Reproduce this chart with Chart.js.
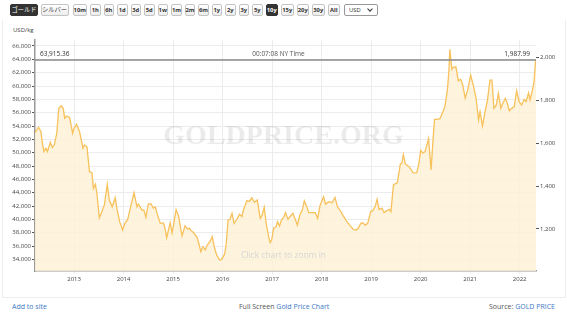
<!DOCTYPE html>
<html>
<head>
<meta charset="utf-8">
<script src="https://cdn.jsdelivr.net/npm/chart.js@4"></script>
<style>
    body { margin: 0; width: 567px; height: 313px; background: #fff; font-family: "Open Sans", sans-serif; position: relative; overflow: hidden; }
    .bar { position: absolute; left: 10px; top: 4px; display: flex; gap: 3px; height: 12px; }
    .bar span { display: inline-block; box-sizing: border-box; width: 10.5px; height: 12px; line-height: 10px; padding: 0; border: 1px solid #c4c4c4; border-radius: 2px; background: linear-gradient(#fff, #ececec); font-size: 5.8px; font-weight: bold; color: #333; text-align: center; white-space: nowrap; }
    .bar span.w3 { width: 12.5px; }
    .bar span.w4 { width: 14.5px; margin-left: 1.5px; }
    .bar span.jp { width: 28px; font-family: "Noto Sans CJK JP", sans-serif; font-weight: normal; font-size: 6.3px; margin-right: -0.5px; }
    .bar span.on { background: #333; border-color: #333; color: #fff; }
    .bar span.sel { width: 34px; margin-left: 1px; text-align: left; padding-left: 4px; font-weight: normal; position: relative; background: #fff; border-color: #999; }
    .bar span.sel::after { content: ""; position: absolute; right: 5px; top: 2px; width: 3px; height: 3px; border-right: 1px solid #333; border-bottom: 1px solid #333; transform: rotate(45deg); }
    .box { position: absolute; left: 2px; top: 20px; width: 562px; height: 277px; border: 1px solid #eee; border-top: none; }
    #wrap { position: absolute; left: 0; top: 20px; width: 567px; height: 277px; }
    .unit { position: absolute; left: 13px; top: 26px; font-size: 6px; color: #444; }
    .foot { position: absolute; top: 302px; font-size: 7px; color: #555; }
    .foot a { color: #3b78c4; text-decoration: none; }
</style>
</head>
<body>
<div class="bar" id="bar"></div>
<div class="box"></div>
<div class="unit">USD/kg</div>
<div id="wrap"><canvas id="goldChart"></canvas></div>
<div class="foot" style="left:12px"><a>Add to site</a></div>
<div class="foot" style="left:239px">Full Screen <a>Gold Price Chart</a></div>
<div class="foot" style="right:12px">Source: <a>GOLD PRICE</a></div>
<script>
// toolbar
const metals = ["ゴールド", "シルバー"];
const ranges = ["10m", "1h", "6h", "1d", "3d", "5d", "1w", "1m", "2m", "6m", "1y", "2y", "3y", "5y", "10y", "15y", "20y", "30y", "All"];
const activeRange = "10y";

const bar = document.getElementById("bar");
metals.forEach((m, i) => {
    const b = document.createElement("span");
    b.className = "jp" + (i === 0 ? " on" : "");
    b.textContent = m;
    bar.appendChild(b);
});
ranges.forEach((r, i) => {
    const b = document.createElement("span");
    const cls = [];
    if (i === 0) cls.push("w4");
    else if (r.length > 2) cls.push("w3");
    if (r === activeRange) cls.push("on");
    b.className = cls.join(" ");
    b.textContent = r;
    bar.appendChild(b);
});
const sel = document.createElement("span");
sel.className = "sel";
sel.textContent = "USD";
bar.appendChild(sel);

// gold price, USD per troy ounce
const years = [
    2012.21, 2012.28, 2012.33, 2012.36, 2012.39, 2012.43, 2012.46, 2012.52, 2012.56, 2012.60,
    2012.65, 2012.69, 2012.74, 2012.78, 2012.81, 2012.85, 2012.91, 2012.97, 2013.00, 2013.05,
    2013.11, 2013.18, 2013.21, 2013.26, 2013.31, 2013.36, 2013.39, 2013.43, 2013.46, 2013.51,
    2013.56, 2013.61, 2013.67, 2013.71, 2013.77, 2013.83, 2013.87, 2013.92, 2013.98, 2014.03,
    2014.08, 2014.15, 2014.21, 2014.27, 2014.30, 2014.37, 2014.41, 2014.45, 2014.50, 2014.55,
    2014.60, 2014.64, 2014.68, 2014.74, 2014.80, 2014.83, 2014.87, 2014.94, 2014.98, 2015.06,
    2015.11, 2015.18, 2015.24, 2015.29, 2015.33, 2015.36, 2015.41, 2015.48, 2015.51, 2015.56,
    2015.60, 2015.65, 2015.69, 2015.75, 2015.79, 2015.83, 2015.88, 2015.94, 2015.98, 2016.04,
    2016.07, 2016.11, 2016.15, 2016.19, 2016.23, 2016.29, 2016.34, 2016.39, 2016.42, 2016.49,
    2016.54, 2016.59, 2016.64, 2016.70, 2016.76, 2016.80, 2016.84, 2016.88, 2016.93, 2016.96,
    2016.99, 2017.03, 2017.08, 2017.11, 2017.15, 2017.19, 2017.23, 2017.27, 2017.32, 2017.36,
    2017.42, 2017.46, 2017.51, 2017.56, 2017.61, 2017.65, 2017.70, 2017.74, 2017.80, 2017.87,
    2017.92, 2017.97, 2018.04, 2018.08, 2018.14, 2018.21, 2018.27, 2018.32, 2018.37, 2018.44,
    2018.51, 2018.58, 2018.64, 2018.70, 2018.74, 2018.79, 2018.83, 2018.88, 2018.93, 2018.99,
    2019.03, 2019.08, 2019.12, 2019.16, 2019.22, 2019.26, 2019.32, 2019.37, 2019.40, 2019.45,
    2019.53, 2019.59, 2019.62, 2019.65, 2019.69, 2019.77, 2019.85, 2019.92, 2019.96, 2020.00,
    2020.04, 2020.09, 2020.16, 2020.21, 2020.25, 2020.28, 2020.34, 2020.39, 2020.45, 2020.49,
    2020.54, 2020.57, 2020.59, 2020.63, 2020.66, 2020.71, 2020.73, 2020.76, 2020.81, 2020.85,
    2020.90, 2020.95, 2021.01, 2021.07, 2021.12, 2021.17, 2021.20, 2021.25, 2021.30, 2021.35,
    2021.40, 2021.44, 2021.48, 2021.53, 2021.57, 2021.62, 2021.66, 2021.71, 2021.75, 2021.79,
    2021.84, 2021.89, 2021.94, 2021.99, 2022.04, 2022.09, 2022.13, 2022.18, 2022.21, 2022.26,
    2022.29, 2022.32, 2022.33
];
const pricesOz = [
    1649, 1674, 1653, 1599, 1560, 1576, 1560, 1604, 1580, 1591,
    1646, 1762, 1774, 1762, 1716, 1726, 1720, 1646, 1669, 1688,
    1653, 1576, 1591, 1583, 1467, 1462, 1389, 1409, 1366, 1252,
    1280, 1311, 1408, 1335, 1303, 1345, 1288, 1234, 1195, 1229,
    1242, 1311, 1369, 1303, 1316, 1288, 1288, 1254, 1316, 1318,
    1297, 1302, 1269, 1226, 1228, 1210, 1159, 1228, 1181, 1290,
    1260, 1167, 1214, 1200, 1203, 1193, 1183, 1162, 1140, 1094,
    1117, 1102, 1125, 1144, 1164, 1117, 1078, 1055, 1058, 1083,
    1125, 1242, 1245, 1273, 1226, 1245, 1269, 1257, 1288, 1332,
    1328, 1345, 1324, 1335, 1249, 1265, 1301, 1226, 1164, 1136,
    1148, 1203, 1210, 1234, 1214, 1242, 1252, 1276, 1245, 1257,
    1273, 1249, 1218, 1265, 1288, 1331, 1303, 1276, 1276, 1276,
    1249, 1311, 1350, 1315, 1327, 1322, 1347, 1303, 1288, 1260,
    1234, 1214, 1198, 1195, 1203, 1226, 1229, 1218, 1226, 1280,
    1285, 1303, 1338, 1291, 1296, 1276, 1285, 1291, 1280, 1405,
    1416, 1503, 1505, 1547, 1503, 1489, 1461, 1462, 1498, 1566,
    1554, 1560, 1621, 1475, 1614, 1711, 1711, 1714, 1746, 1770,
    1848, 1933, 2037, 1944, 1953, 1956, 1933, 1891, 1897, 1871,
    1809, 1848, 1917, 1863, 1809, 1708, 1746, 1680, 1746, 1801,
    1894, 1894, 1762, 1778, 1832, 1762, 1786, 1809, 1786, 1751,
    1762, 1770, 1844, 1793, 1778, 1804, 1793, 1835, 1801, 1848,
    1886, 1979, 1987.99
];
const currentOz = 1987.99;
const currentKg = "63,915.36";
const nyTime = "00:07:08 NY Time";
const yearTicks = [2013, 2014, 2015, 2016, 2017, 2018, 2019, 2020, 2021, 2022];
const kgTicks = [34000, 36000, 38000, 40000, 42000, 44000, 46000, 48000, 50000, 52000, 54000, 56000, 58000, 60000, 62000, 64000, 66000];
const ozTicks = [1200, 1400, 1600, 1800, 2000];

const OZ_PER_KG = 32.1507;
const xMin = 2012.21, xMax = 2022.33;
const ozMin = 1003.8, ozMax = 2080.7;
const tickFont = { family: "Open Sans", size: 6 };

const overlay = {
    id: "overlay",
    beforeDatasetsDraw(chart) {
        const { ctx, chartArea: a } = chart;
        const cx = (a.left + a.right) / 2;
        ctx.save();
        ctx.textAlign = "center";
        ctx.textBaseline = "middle";
        ctx.fillStyle = "rgba(0,0,0,0.08)";
        ctx.font = "bold 28px 'Liberation Serif', serif";
        ctx.fillText("GOLDPRICE.ORG", cx - 2, 117);
        ctx.restore();
    },
    afterDatasetsDraw(chart) {
        const { ctx, chartArea: a, scales } = chart;
        const cx = (a.left + a.right) / 2;
        const y = scales.yOz.getPixelForValue(currentOz) - 2.5;
        ctx.save();
        ctx.textAlign = "center";
        ctx.textBaseline = "middle";
        ctx.fillStyle = "#d6d6d6";
        ctx.font = "8.5px 'Open Sans', sans-serif";
        ctx.fillText("Click chart to zoom in", cx - 2, 236);

        ctx.fillStyle = "#333";
        ctx.textBaseline = "bottom";
        ctx.font = "6.5px 'Open Sans', sans-serif";
        ctx.textAlign = "left";
        ctx.fillText(currentKg, a.left + 5, y);
        ctx.textAlign = "right";
        ctx.fillText(currentOz.toLocaleString("en-US"), a.right - 6, y);
        ctx.textAlign = "center";
        ctx.fillStyle = "#555";
        ctx.fillText(nyTime, cx - 7, y);
        ctx.restore();
    }
};

const ctx = document.getElementById("goldChart").getContext("2d");
new Chart(ctx, {
    type: "line",
    data: {
        datasets: [
            {
                // current price line
                data: [{ x: xMin, y: currentOz }, { x: xMax, y: currentOz }],
                yAxisID: "yOz",
                borderColor: "#8a8a8a",
                borderWidth: 1.5,
                pointRadius: 0,
                fill: false
            },
            {
                label: "Gold",
                data: years.map((t, i) => ({ x: t, y: pricesOz[i] })),
                yAxisID: "yOz",
                borderColor: "#f7c15c",
                backgroundColor: "rgba(254, 241, 214, 0.85)",
                borderWidth: 1.3,
                pointRadius: 0,
                tension: 0,
                fill: "start"
            }
        ]
    },
    options: {
        responsive: true,
        maintainAspectRatio: false,
        animation: false,
        layout: { padding: { top: 20, left: 0, right: 0, bottom: 0 } },
        plugins: {
            legend: { display: false },
            tooltip: { enabled: false }
        },
        scales: {
            x: {
                type: "linear",
                min: xMin,
                max: xMax,
                afterFit: s => { s.height = 26; },
                afterBuildTicks: s => { s.ticks = yearTicks.map(v => ({ value: v })); },
                ticks: {
                    autoSkip: false,
                    maxRotation: 0,
                    padding: 2,
                    font: tickFont,
                    color: "#444",
                    callback: v => String(v)
                },
                grid: { color: "#ececec", tickLength: 3, tickColor: "#ececec" },
                border: { color: "#9a9a9a", width: 1.5 }
            },
            yKg: {
                position: "left",
                min: ozMin * OZ_PER_KG,
                max: ozMax * OZ_PER_KG,
                afterFit: s => { s.width = 35; },
                afterBuildTicks: s => { s.ticks = kgTicks.map(v => ({ value: v })); },
                ticks: {
                    autoSkip: false,
                    padding: 1,
                    font: tickFont,
                    color: "#444",
                    callback: v => v.toLocaleString("en-US")
                },
                grid: { color: "#ececec", tickLength: 3, tickColor: "#555" },
                border: { color: "#9a9a9a", width: 1.5 }
            },
            yOz: {
                position: "right",
                min: ozMin,
                max: ozMax,
                afterFit: s => { s.width = 31; },
                afterBuildTicks: s => { s.ticks = ozTicks.map(v => ({ value: v })); },
                ticks: {
                    autoSkip: false,
                    padding: 1,
                    font: tickFont,
                    color: "#444",
                    callback: v => v.toLocaleString("en-US")
                },
                grid: { drawOnChartArea: false, tickLength: 3, tickColor: "#555" },
                border: { display: false }
            }
        }
    },
    plugins: [overlay]
});
</script>
</body>
</html>
